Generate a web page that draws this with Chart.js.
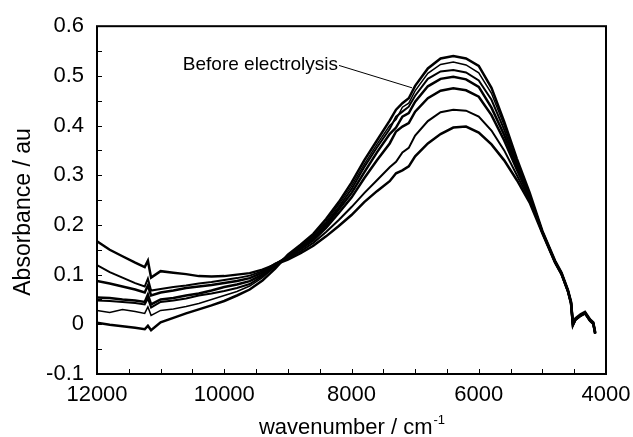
<!DOCTYPE html>
<html>
<head>
<meta charset="utf-8">
<script src="https://cdn.jsdelivr.net/npm/chart.js@4.4.1/dist/chart.umd.min.js"></script>
<style>
  html, body { margin: 0; padding: 0; background: #fff; }
  #wrap { width: 633px; height: 437px; }
</style>
</head>
<body>
<div id="wrap"><canvas id="spectra"></canvas></div>
<script>
// wavenumber grid, cm-1
const wavenumber = [12000, 11800, 11600, 11400, 11250, 11200, 11150, 11000, 10800, 10600,
  10400, 10200, 10000, 9800, 9600, 9400, 9200, 9000, 8800, 8600,
  8400, 8200, 8000, 7800, 7600, 7400, 7300, 7200, 7100, 7000, 6800,
  6600, 6400, 6200, 6000, 5800, 5600, 5400, 5200, 5000, 4800,
  4700, 4600, 4550, 4520, 4480, 4400, 4330, 4250, 4200, 4170];

// absorbance, before electrolysis first
const run1 = [0.003, -0.001, -0.004, -0.007, -0.010, -0.003, -0.012, 0.004, 0.013, 0.022,
  0.030, 0.038, 0.047, 0.058, 0.070, 0.088, 0.112, 0.140, 0.160, 0.182,
  0.212, 0.246, 0.285, 0.330, 0.370, 0.410, 0.432, 0.445, 0.455, 0.480, 0.515,
  0.535, 0.540, 0.535, 0.520, 0.476, 0.408, 0.333, 0.265, 0.188, 0.128,
  0.104, 0.070, 0.046, 0.002, 0.012, 0.020, 0.025, 0.010, 0.004, -0.016];
const run2 = [0.028, 0.024, 0.030, 0.026, 0.022, 0.035, 0.018, 0.028, 0.031, 0.036,
  0.042, 0.050, 0.058, 0.066, 0.077, 0.094, 0.116, 0.139, 0.158, 0.179,
  0.207, 0.241, 0.278, 0.322, 0.362, 0.400, 0.412, 0.437, 0.445, 0.470, 0.505,
  0.523, 0.528, 0.522, 0.506, 0.465, 0.400, 0.328, 0.262, 0.187, 0.127,
  0.103, 0.069, 0.045, 0.001, 0.011, 0.019, 0.024, 0.009, 0.003, -0.017];
const run3 = [0.048, 0.047, 0.045, 0.043, 0.040, 0.052, 0.034, 0.045, 0.048, 0.052,
  0.058, 0.062, 0.067, 0.073, 0.081, 0.097, 0.118, 0.138, 0.156, 0.176,
  0.203, 0.236, 0.272, 0.316, 0.356, 0.393, 0.418, 0.428, 0.438, 0.460, 0.494,
  0.509, 0.512, 0.507, 0.491, 0.452, 0.392, 0.323, 0.260, 0.186, 0.126,
  0.103, 0.069, 0.044, 0.000, 0.011, 0.019, 0.024, 0.009, 0.003, -0.017];
const run4 = [0.054, 0.053, 0.050, 0.048, 0.045, 0.060, 0.040, 0.050, 0.053, 0.058,
  0.062, 0.068, 0.075, 0.080, 0.087, 0.100, 0.120, 0.137, 0.154, 0.173,
  0.199, 0.231, 0.264, 0.306, 0.346, 0.383, 0.396, 0.418, 0.425, 0.448, 0.479,
  0.494, 0.498, 0.493, 0.478, 0.436, 0.381, 0.318, 0.258, 0.186, 0.126,
  0.102, 0.068, 0.044, 0.000, 0.010, 0.018, 0.023, 0.008, 0.002, -0.018];
const run5 = [0.087, 0.082, 0.076, 0.070, 0.064, 0.078, 0.058, 0.064, 0.068, 0.073,
  0.076, 0.079, 0.083, 0.087, 0.093, 0.104, 0.121, 0.135, 0.151, 0.169,
  0.194, 0.224, 0.255, 0.294, 0.330, 0.364, 0.388, 0.398, 0.405, 0.428, 0.455,
  0.470, 0.475, 0.471, 0.458, 0.421, 0.370, 0.311, 0.255, 0.185, 0.125,
  0.102, 0.068, 0.043, -0.001, 0.010, 0.018, 0.023, 0.008, 0.002, -0.018];
const run6 = [0.119, 0.105, 0.094, 0.083, 0.076, 0.092, 0.068, 0.071, 0.075, 0.078,
  0.082, 0.085, 0.089, 0.093, 0.098, 0.107, 0.122, 0.133, 0.147, 0.164,
  0.186, 0.210, 0.236, 0.264, 0.290, 0.316, 0.327, 0.346, 0.355, 0.380, 0.409,
  0.427, 0.432, 0.430, 0.418, 0.390, 0.350, 0.300, 0.250, 0.184, 0.125,
  0.101, 0.067, 0.043, -0.001, 0.009, 0.017, 0.022, 0.007, 0.001, -0.019];
const run7 = [0.167, 0.150, 0.137, 0.124, 0.115, 0.128, 0.094, 0.107, 0.104, 0.101,
  0.097, 0.096, 0.097, 0.100, 0.103, 0.110, 0.120, 0.130, 0.143, 0.158,
  0.177, 0.198, 0.220, 0.246, 0.268, 0.288, 0.304, 0.310, 0.318, 0.338, 0.364,
  0.383, 0.396, 0.398, 0.386, 0.362, 0.330, 0.290, 0.245, 0.183, 0.124,
  0.101, 0.067, 0.042, -0.002, 0.009, 0.017, 0.022, 0.007, 0.001, -0.019];

const runs = [run1, run2, run3, run4, run5, run6, run7];
const runWidths = [2.5, 1.5, 2, 2.5, 2.5, 2, 2.5];

const xTickLabels = ['12000', '10000', '8000', '6000', '4000'];
const yTickLabels = ['-0.1', '0', '0.1', '0.2', '0.3', '0.4', '0.5', '0.6'];

// callout: label anchor and the point on the first spectrum
const noteText = 'Before electrolysis';
const noteFrom = { x: 8196, y: 0.521 };
const noteTo = { x: 7049, y: 0.476 };

const FONT = '"Liberation Sans", Arial, sans-serif';

const frame = {
  id: 'frame',
  afterDatasetsDraw(chart) {
    const { ctx, chartArea: a, scales: { x, y } } = chart;
    ctx.save();
    ctx.strokeStyle = '#000';
    ctx.fillStyle = '#000';

    // inward minor/major ticks
    ctx.lineWidth = 1;
    ctx.beginPath();
    for (let v = 4000; v <= 12000; v += 500) {
      const px = Math.round(x.getPixelForValue(v)) + 0.5;
      ctx.moveTo(px, a.bottom);
      ctx.lineTo(px, a.bottom - 5);
    }
    for (let k = -2; k <= 12; k++) {
      const py = Math.round(y.getPixelForValue(k * 0.05)) + 0.5;
      ctx.moveTo(a.left, py);
      ctx.lineTo(a.left + 5, py);
    }
    ctx.stroke();

    ctx.lineWidth = 2;
    ctx.strokeRect(a.left, a.top, a.right - a.left, a.bottom - a.top);

    // callout label
    ctx.font = '19px ' + FONT;
    ctx.textAlign = 'right';
    ctx.textBaseline = 'middle';
    ctx.fillText(noteText, x.getPixelForValue(noteFrom.x) - 1, y.getPixelForValue(noteFrom.y) - 1);

    // x title with superscript
    const main = 'wavenumber / cm';
    const sup = '-1';
    ctx.font = '22px ' + FONT;
    const w1 = ctx.measureText(main).width;
    ctx.font = '13px ' + FONT;
    const w2 = ctx.measureText(sup).width;
    const cx = (a.left + a.right) / 2;
    const startX = cx - (w1 + w2) / 2;
    ctx.textAlign = 'left';
    ctx.textBaseline = 'alphabetic';
    ctx.font = '22px ' + FONT;
    ctx.fillText(main, startX, 434);
    ctx.font = '13px ' + FONT;
    ctx.fillText(sup, startX + w1 + 1, 424);

    // y title
    ctx.font = '23px ' + FONT;
    ctx.textAlign = 'center';
    ctx.textBaseline = 'middle';
    ctx.translate(24, 212);
    ctx.rotate(-Math.PI / 2);
    ctx.fillText('Absorbance / au', 0, 0);
    ctx.restore();
  }
};

const datasets = runs.map((r, i) => ({
  data: wavenumber.map((w, j) => ({ x: w, y: r[j] })),
  borderColor: '#000',
  borderWidth: runWidths[i],
  pointRadius: 0,
  tension: 0,
  fill: false
}));
datasets.push({
  data: [noteFrom, noteTo],
  borderColor: '#000',
  borderWidth: 1,
  pointRadius: 0,
  fill: false
});

new Chart(document.getElementById('spectra'), {
  type: 'line',
  data: { datasets },
  options: {
    responsive: true,
    maintainAspectRatio: false,
    animation: false,
    layout: { padding: { left: 0, top: 21, right: 27, bottom: 0 } },
    plugins: { legend: { display: false }, tooltip: { enabled: false } },
    scales: {
      x: {
        type: 'linear',
        reverse: true,
        min: 4000,
        max: 12000,
        grid: { display: false, drawTicks: false },
        border: { display: false },
        ticks: {
          stepSize: 2000,
          autoSkip: false,
          maxRotation: 0,
          padding: 8,
          color: '#000',
          font: { family: FONT, size: 22 },
          callback: v => xTickLabels.includes(String(v)) ? String(v) : ''
        },
        afterFit: s => { s.height = 63; s.paddingLeft = 0; s.paddingRight = 0; }
      },
      y: {
        type: 'linear',
        min: -0.1,
        max: 0.6,
        grid: { display: false, drawTicks: false },
        border: { display: false },
        ticks: {
          stepSize: 0.1,
          padding: 13,
          color: '#000',
          font: { family: FONT, size: 22 },
          callback: (v, i) => yTickLabels[i]
        },
        afterFit: s => { s.width = 97; }
      }
    }
  },
  plugins: [frame]
});
</script>
</body>
</html>
